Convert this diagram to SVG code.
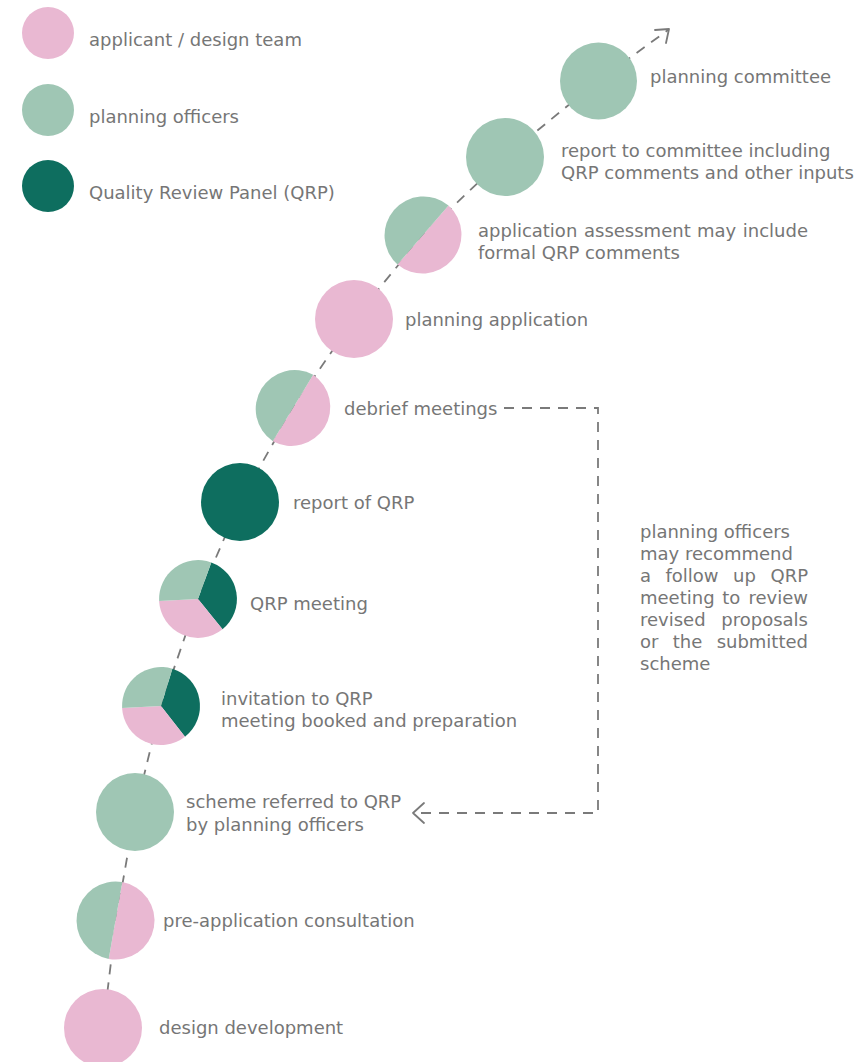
<svg xmlns="http://www.w3.org/2000/svg" width="860" height="1062" viewBox="0 0 860 1062">
<style>
.t{font-family:"DejaVu Sans","Liberation Sans",sans-serif;font-size:18px;fill:#767676}
.e{text-anchor:end}
.pk{fill:#E9B8D2}
.lg{fill:#9FC6B4}
.dk{fill:#0E6E5F}
.dash{fill:none;stroke:#7a7a7a;stroke-width:1.8;stroke-dasharray:10 8}
.ah{fill:none;stroke:#7a7a7a;stroke-width:1.8;stroke-linecap:round;stroke-linejoin:round}
</style>
<rect width="860" height="1062" fill="#ffffff"/>
<g id="legend">
<circle class="pk" cx="48" cy="33" r="26"/>
<text class="t" x="89" y="46">applicant / design team</text>
<circle class="lg" cx="48" cy="110" r="26"/>
<text class="t" x="89" y="123">planning officers</text>
<circle class="dk" cx="48" cy="186" r="26"/>
<text class="t" x="89" y="199">Quality Review Panel (QRP)</text>
</g>
<g id="connectors">
<polyline class="dash" points="103,1028 116,921 135,812 161,706 198,599 240,502 293,408 354,319 423,235 505,157 598,81 668,30"/>
<polyline class="ah" points="655,30 669,29 666,43"/>
<polyline class="dash" points="504,408 598,408 598,813 416,813"/>
<polyline class="ah" points="424,803 413,813 424,823"/>
</g>
<g id="design-development">
<circle class="pk" cx="103" cy="1028" r="39"/>
<text class="t" x="159" y="1034">design development</text>
</g>
<g id="pre-application">
<path class="pk" d="M122.3,882.1 A38.5,38.5 0 0 1 108.7,958.9 Z"/>
<path class="lg" d="M122.3,882.1 A38.5,38.5 0 0 0 108.7,958.9 Z"/>
<text class="t" x="163" y="927">pre-application consultation</text>
</g>
<g id="scheme-referred">
<circle class="lg" cx="135" cy="812" r="39"/>
<text class="t" x="186" y="808">scheme referred to QRP</text>
<text class="t" x="186" y="831">by planning officers</text>
</g>
<g id="invitation">
<path class="dk" d="M161,706 L172.4,668.7 A39,39 0 0 1 185,736.7 Z"/>
<path class="pk" d="M161,706 L185,736.7 A39,39 0 0 1 122.1,708 Z"/>
<path class="lg" d="M161,706 L122.1,708 A39,39 0 0 1 172.4,668.7 Z"/>
<text class="t" x="221" y="705">invitation to QRP</text>
<text class="t" x="221" y="727">meeting booked and preparation</text>
</g>
<g id="qrp-meeting">
<path class="dk" d="M198,599 L211.3,562.4 A39,39 0 0 1 222.5,629.3 Z"/>
<path class="pk" d="M198,599 L222.5,629.3 A39,39 0 0 1 159.1,601 Z"/>
<path class="lg" d="M198,599 L159.1,601 A39,39 0 0 1 211.3,562.4 Z"/>
<text class="t" x="250" y="610">QRP meeting</text>
</g>
<g id="report-of-qrp">
<circle class="dk" cx="240" cy="502" r="39"/>
<text class="t" x="293" y="509">report of QRP</text>
</g>
<g id="debrief">
<path class="pk" d="M313.2,374.7 A39,39 0 0 1 272.8,441.3 Z"/>
<path class="lg" d="M313.2,374.7 A39,39 0 0 0 272.8,441.3 Z"/>
<text class="t" x="344" y="415">debrief meetings</text>
</g>
<g id="planning-application">
<circle class="pk" cx="354" cy="319" r="39"/>
<text class="t" x="405" y="326">planning application</text>
</g>
<g id="application-assessment">
<path class="pk" d="M448.5,205.5 A39,39 0 0 1 397.5,264.5 Z"/>
<path class="lg" d="M448.5,205.5 A39,39 0 0 0 397.5,264.5 Z"/>
<text class="t" y="237"><tspan x="478">application</tspan><tspan x="584">assessment</tspan><tspan x="697">may</tspan><tspan x="808" class="e">include</tspan></text>
<text class="t" x="478" y="259">formal QRP comments</text>
</g>
<g id="report-to-committee">
<circle class="lg" cx="505" cy="157" r="39"/>
<text class="t" x="561" y="157">report to committee including</text>
<text class="t" x="561" y="179">QRP comments and other inputs</text>
</g>
<g id="planning-committee">
<circle class="lg" cx="598.5" cy="81" r="38.5"/>
<text class="t" x="650" y="83">planning committee</text>
</g>
<g id="note">
<text class="t" x="640" y="538">planning officers</text>
<text class="t" x="640" y="560">may recommend</text>
<text class="t" y="582"><tspan x="640">a</tspan><tspan x="665.5">follow</tspan><tspan x="733">up</tspan><tspan x="808" class="e">QRP</tspan></text>
<text class="t" y="604"><tspan x="640">meeting</tspan><tspan x="722.3">to</tspan><tspan x="808" class="e">review</tspan></text>
<text class="t" y="626"><tspan x="640">revised</tspan><tspan x="808" class="e">proposals</tspan></text>
<text class="t" y="648"><tspan x="640">or</tspan><tspan x="672.8">the</tspan><tspan x="808" class="e">submitted</tspan></text>
<text class="t" x="640" y="670">scheme</text>
</g>
</svg>
